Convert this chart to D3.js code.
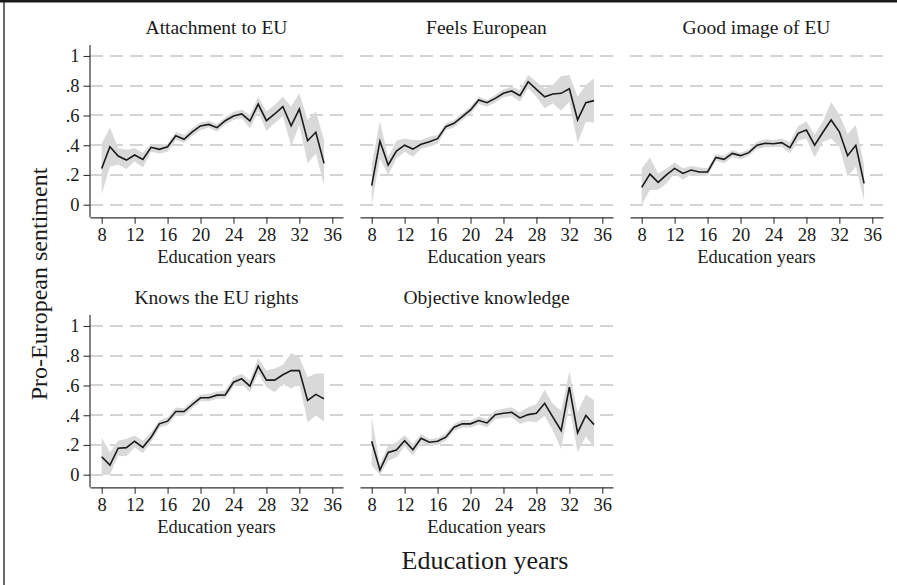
<!DOCTYPE html>
<html><head><meta charset="utf-8">
<script src="https://cdn.jsdelivr.net/npm/d3@7"></script>
<style>body{margin:0;background:#fff}svg{display:block}text{font-family:"Liberation Serif","Times New Roman",serif;fill:#1a1a1a}</style>
</head><body><svg id="c" width="897" height="585"></svg>
<script>
const years = [8,9,10,11,12,13,14,15,16,17,18,19,20,21,22,23,24,25,26,27,28,29,30,31,32,33,34,35];
const titles = ["Attachment to EU","Feels European","Good image of EU","Knows the EU rights","Objective knowledge"];
const yTicks = [0,0.2,0.4,0.6,0.8,1];
const yTickLabels = ["0",".2",".4",".6",".8","1"];
const xTicks = [8,12,16,20,24,28,32,36];

const attachMean = [0.244,0.39,0.327,0.30,0.334,0.305,0.386,0.372,0.39,0.464,0.44,0.49,0.53,0.54,0.518,0.565,0.596,0.61,0.563,0.677,0.565,0.61,0.66,0.53,0.643,0.43,0.487,0.278];
const attachHi   = [0.41,0.52,0.38,0.37,0.38,0.35,0.41,0.40,0.41,0.49,0.468,0.514,0.552,0.565,0.543,0.587,0.625,0.641,0.603,0.726,0.626,0.67,0.726,0.66,0.75,0.57,0.626,0.435];
const attachLo   = [0.07,0.255,0.27,0.24,0.29,0.25,0.356,0.345,0.356,0.435,0.417,0.464,0.50,0.52,0.49,0.54,0.57,0.581,0.513,0.626,0.498,0.547,0.596,0.395,0.536,0.278,0.345,0.132];

const feelsMean = [0.128,0.428,0.267,0.36,0.40,0.374,0.406,0.424,0.444,0.525,0.547,0.592,0.637,0.704,0.686,0.715,0.749,0.765,0.733,0.827,0.776,0.726,0.744,0.749,0.78,0.57,0.686,0.70];
const feelsHi   = [0.27,0.56,0.32,0.43,0.446,0.435,0.435,0.457,0.469,0.547,0.570,0.614,0.659,0.726,0.704,0.737,0.776,0.794,0.771,0.872,0.827,0.782,0.805,0.865,0.872,0.726,0.805,0.85];
const feelsLo   = [0.0,0.31,0.20,0.31,0.356,0.323,0.377,0.392,0.41,0.503,0.52,0.57,0.61,0.677,0.659,0.688,0.722,0.733,0.693,0.783,0.726,0.648,0.682,0.632,0.693,0.413,0.558,0.552];

const imageMean = [0.117,0.206,0.15,0.20,0.244,0.21,0.233,0.22,0.22,0.318,0.305,0.345,0.33,0.35,0.40,0.413,0.41,0.417,0.383,0.48,0.502,0.40,0.487,0.57,0.49,0.33,0.40,0.143];
const imageHi   = [0.244,0.318,0.21,0.244,0.283,0.245,0.26,0.25,0.245,0.34,0.33,0.368,0.35,0.372,0.423,0.44,0.435,0.446,0.42,0.53,0.56,0.47,0.56,0.69,0.605,0.475,0.536,0.267];
const imageLo   = [0.0,0.099,0.10,0.143,0.21,0.17,0.204,0.193,0.195,0.295,0.278,0.32,0.305,0.327,0.377,0.386,0.386,0.390,0.345,0.431,0.446,0.318,0.423,0.446,0.39,0.19,0.256,0.03];

const rightsMean = [0.121,0.065,0.178,0.182,0.225,0.184,0.252,0.342,0.36,0.425,0.425,0.472,0.517,0.517,0.535,0.537,0.622,0.645,0.596,0.73,0.636,0.636,0.672,0.70,0.70,0.50,0.54,0.51];
const rightsHi   = [0.25,0.15,0.23,0.24,0.263,0.229,0.285,0.364,0.387,0.452,0.447,0.497,0.537,0.544,0.56,0.566,0.656,0.679,0.636,0.784,0.70,0.715,0.739,0.818,0.79,0.656,0.68,0.68];
const rightsLo   = [0.0,0.0,0.128,0.124,0.184,0.144,0.218,0.315,0.332,0.398,0.398,0.447,0.494,0.494,0.51,0.51,0.593,0.611,0.555,0.679,0.589,0.555,0.611,0.578,0.611,0.353,0.398,0.357];

const objMean = [0.225,0.031,0.15,0.166,0.229,0.168,0.245,0.218,0.225,0.252,0.319,0.342,0.342,0.364,0.348,0.404,0.413,0.42,0.382,0.404,0.413,0.48,0.387,0.297,0.589,0.281,0.398,0.337];
const objHi   = [0.387,0.072,0.195,0.216,0.267,0.206,0.274,0.24,0.247,0.279,0.341,0.369,0.364,0.391,0.373,0.434,0.443,0.454,0.42,0.454,0.474,0.571,0.476,0.43,0.694,0.42,0.54,0.5];
const objLo   = [0.06,0.0,0.094,0.117,0.191,0.128,0.215,0.195,0.2,0.229,0.294,0.317,0.315,0.337,0.319,0.375,0.382,0.386,0.341,0.36,0.353,0.396,0.297,0.173,0.465,0.151,0.258,0.184];

const panels = [
  {mean:attachMean,hi:attachHi,lo:attachLo,col:0,row:0},
  {mean:feelsMean,hi:feelsHi,lo:feelsLo,col:1,row:0},
  {mean:imageMean,hi:imageHi,lo:imageLo,col:2,row:0},
  {mean:rightsMean,hi:rightsHi,lo:rightsLo,col:0,row:1},
  {mean:objMean,hi:objHi,lo:objLo,col:1,row:1}
];

const svg = d3.select("#c");
svg.append("line").attr("x1",0).attr("x2",897).attr("y1",1.2).attr("y2",1.2).attr("stroke","#1a1a1a").attr("stroke-width",2.4);
svg.append("line").attr("x1",4).attr("x2",4).attr("y1",0).attr("y2",585).attr("stroke","#1a1a1a").attr("stroke-width",1.3);

const colX = [90,360,630], rowY = [45,315];
const pw = 253, ph = 172.3;
const tickFont = 18.5;

panels.forEach((p,i)=>{
  const g = svg.append("g").attr("transform",`translate(${colX[p.col]},${rowY[p.row]})`);
  const x = d3.scaleLinear().domain([6.58,37.3]).range([0,pw]);
  const y = d3.scaleLinear().domain([0,1]).range([159.7,11]);
  g.append("g").selectAll("line").data(yTicks).join("line")
    .attr("x1",0).attr("x2",pw).attr("y1",d=>Math.round(y(d))).attr("y2",d=>Math.round(y(d)))
    .attr("stroke","#c6c6c6").attr("stroke-width",1.5).attr("stroke-dasharray","13,7");
  const area = d3.area().x((d,j)=>x(years[j])).y0((d,j)=>y(p.lo[j])).y1((d,j)=>y(p.hi[j]));
  g.append("path").datum(years).attr("d",area).attr("fill","#d9d9d9");
  const line = d3.line().x((d,j)=>x(years[j])).y((d,j)=>y(p.mean[j]));
  g.append("path").datum(years).attr("d",line).attr("fill","none").attr("stroke","#1a1a1a").attr("stroke-width",1.6);
  const xa = g.append("g").attr("transform",`translate(0,${ph})`)
    .call(d3.axisBottom(x).tickValues(xTicks).tickSize(6.5).tickPadding(4).tickSizeOuter(0));
  xa.select(".domain").attr("stroke","#333").attr("stroke-width",1.2);
  xa.selectAll(".tick line").attr("stroke","#333").attr("stroke-width",1.1);
  xa.selectAll(".tick text").attr("font-size",tickFont).attr("fill","#1a1a1a").attr("font-family","Liberation Serif, serif");
  g.append("text").attr("x",pw/2).attr("y",ph+46).attr("text-anchor","middle").attr("font-size",tickFont).text("Education years");
  if(p.col===0){
    const ya = g.append("g").call(d3.axisLeft(y).tickValues(yTicks).tickFormat((d,j)=>yTickLabels[j]).tickSize(6.5).tickPadding(4).tickSizeOuter(0));
    ya.select(".domain").attr("d",`M0,0V${ph}`).attr("stroke","#333").attr("stroke-width",1.2);
    ya.selectAll(".tick line").attr("stroke","#333").attr("stroke-width",1.1);
    ya.selectAll(".tick text").attr("font-size",tickFont).attr("fill","#1a1a1a").attr("font-family","Liberation Serif, serif");
  }
  g.append("text").attr("x",pw/2).attr("y",-11).attr("text-anchor","middle").attr("font-size",19.5).text(titles[i]);
});

svg.append("text").attr("transform","translate(47,284) rotate(-90)").attr("text-anchor","middle").attr("font-size",24).text("Pro-European sentiment");
svg.append("text").attr("x",485).attr("y",569).attr("text-anchor","middle").attr("font-size",26).text("Education years");
</script></body></html>
